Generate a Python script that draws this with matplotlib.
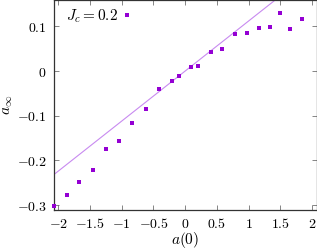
import numpy as np
import matplotlib
matplotlib.use("Agg")
import matplotlib.pyplot as plt

plt.rcParams["mathtext.fontset"] = "cm"
plt.rcParams["font.family"] = "serif"
plt.rcParams["font.serif"] = ["DejaVu Serif"]

# a(0) vs a_inf
a0 = [-2.06, -1.86, -1.67, -1.46, -1.24, -1.05, -0.83, -0.62, -0.41, -0.20, -0.094,
      0.094, 0.20, 0.40, 0.58, 0.79, 0.98, 1.17, 1.34, 1.50, 1.66, 1.84]
a_inf = [-0.301, -0.278, -0.248, -0.221, -0.174, -0.156, -0.116, -0.084, -0.041, -0.023, -0.011,
         0.009, 0.011, 0.043, 0.050, 0.082, 0.086, 0.096, 0.099, 0.129, 0.094, 0.116]
slope = 0.112  # straight reference line a_inf = slope * a(0)

xticks = [-2, -1.5, -1, -0.5, 0, 0.5, 1, 1.5, 2]
xticklabels = [r"$-2$", r"$-1.5$", r"$-1$", r"$-0.5$", r"$0$", r"$0.5$", r"$1$", r"$1.5$", r"$2$"]
yticks = [-0.3, -0.2, -0.1, 0, 0.1]
yticklabels = [r"$-0.3$", r"$-0.2$", r"$-0.1$", r"$0$", r"$0.1$"]

fig = plt.figure(figsize=(3.17, 2.5), dpi=100)
ax = fig.add_axes([53.5 / 317, 40 / 250, 263 / 317, 210 / 250])

xl = np.array([-2.2, 2.2])
ax.plot(xl, slope * xl, color="#c88af0", lw=0.8)
ax.plot(a0, a_inf, ls="none", marker="s", ms=2.9, color="#9400d3", mew=0,
        label=r"$J_c = 0.2$", clip_on=False, zorder=5)

ax.set_xlim(-2.075, 2.07)
ax.set_ylim(-0.311, 0.159)
ax.set_xticks(xticks)
ax.set_xticklabels(xticklabels)
ax.set_yticks(yticks)
ax.set_yticklabels(yticklabels)
ax.tick_params(direction="in", top=True, right=True, length=3.5, width=0.5,
               labelsize=10, pad=5, color="#555555")
for s in ax.spines.values():
    s.set_linewidth(0.9)
    s.set_color("#333333")

ax.set_xlabel(r"$a(0)$", fontsize=11, labelpad=-0.5)
ax.set_ylabel(r"$a_\infty$", fontsize=11, labelpad=1)

ax.legend(loc="upper left", frameon=False, fontsize=11, markerfirst=False,
          handlelength=0.6, handletextpad=0.3, borderaxespad=0.0,
          bbox_to_anchor=(0.025, 0.993))

fig.savefig("out.png", dpi=100)
